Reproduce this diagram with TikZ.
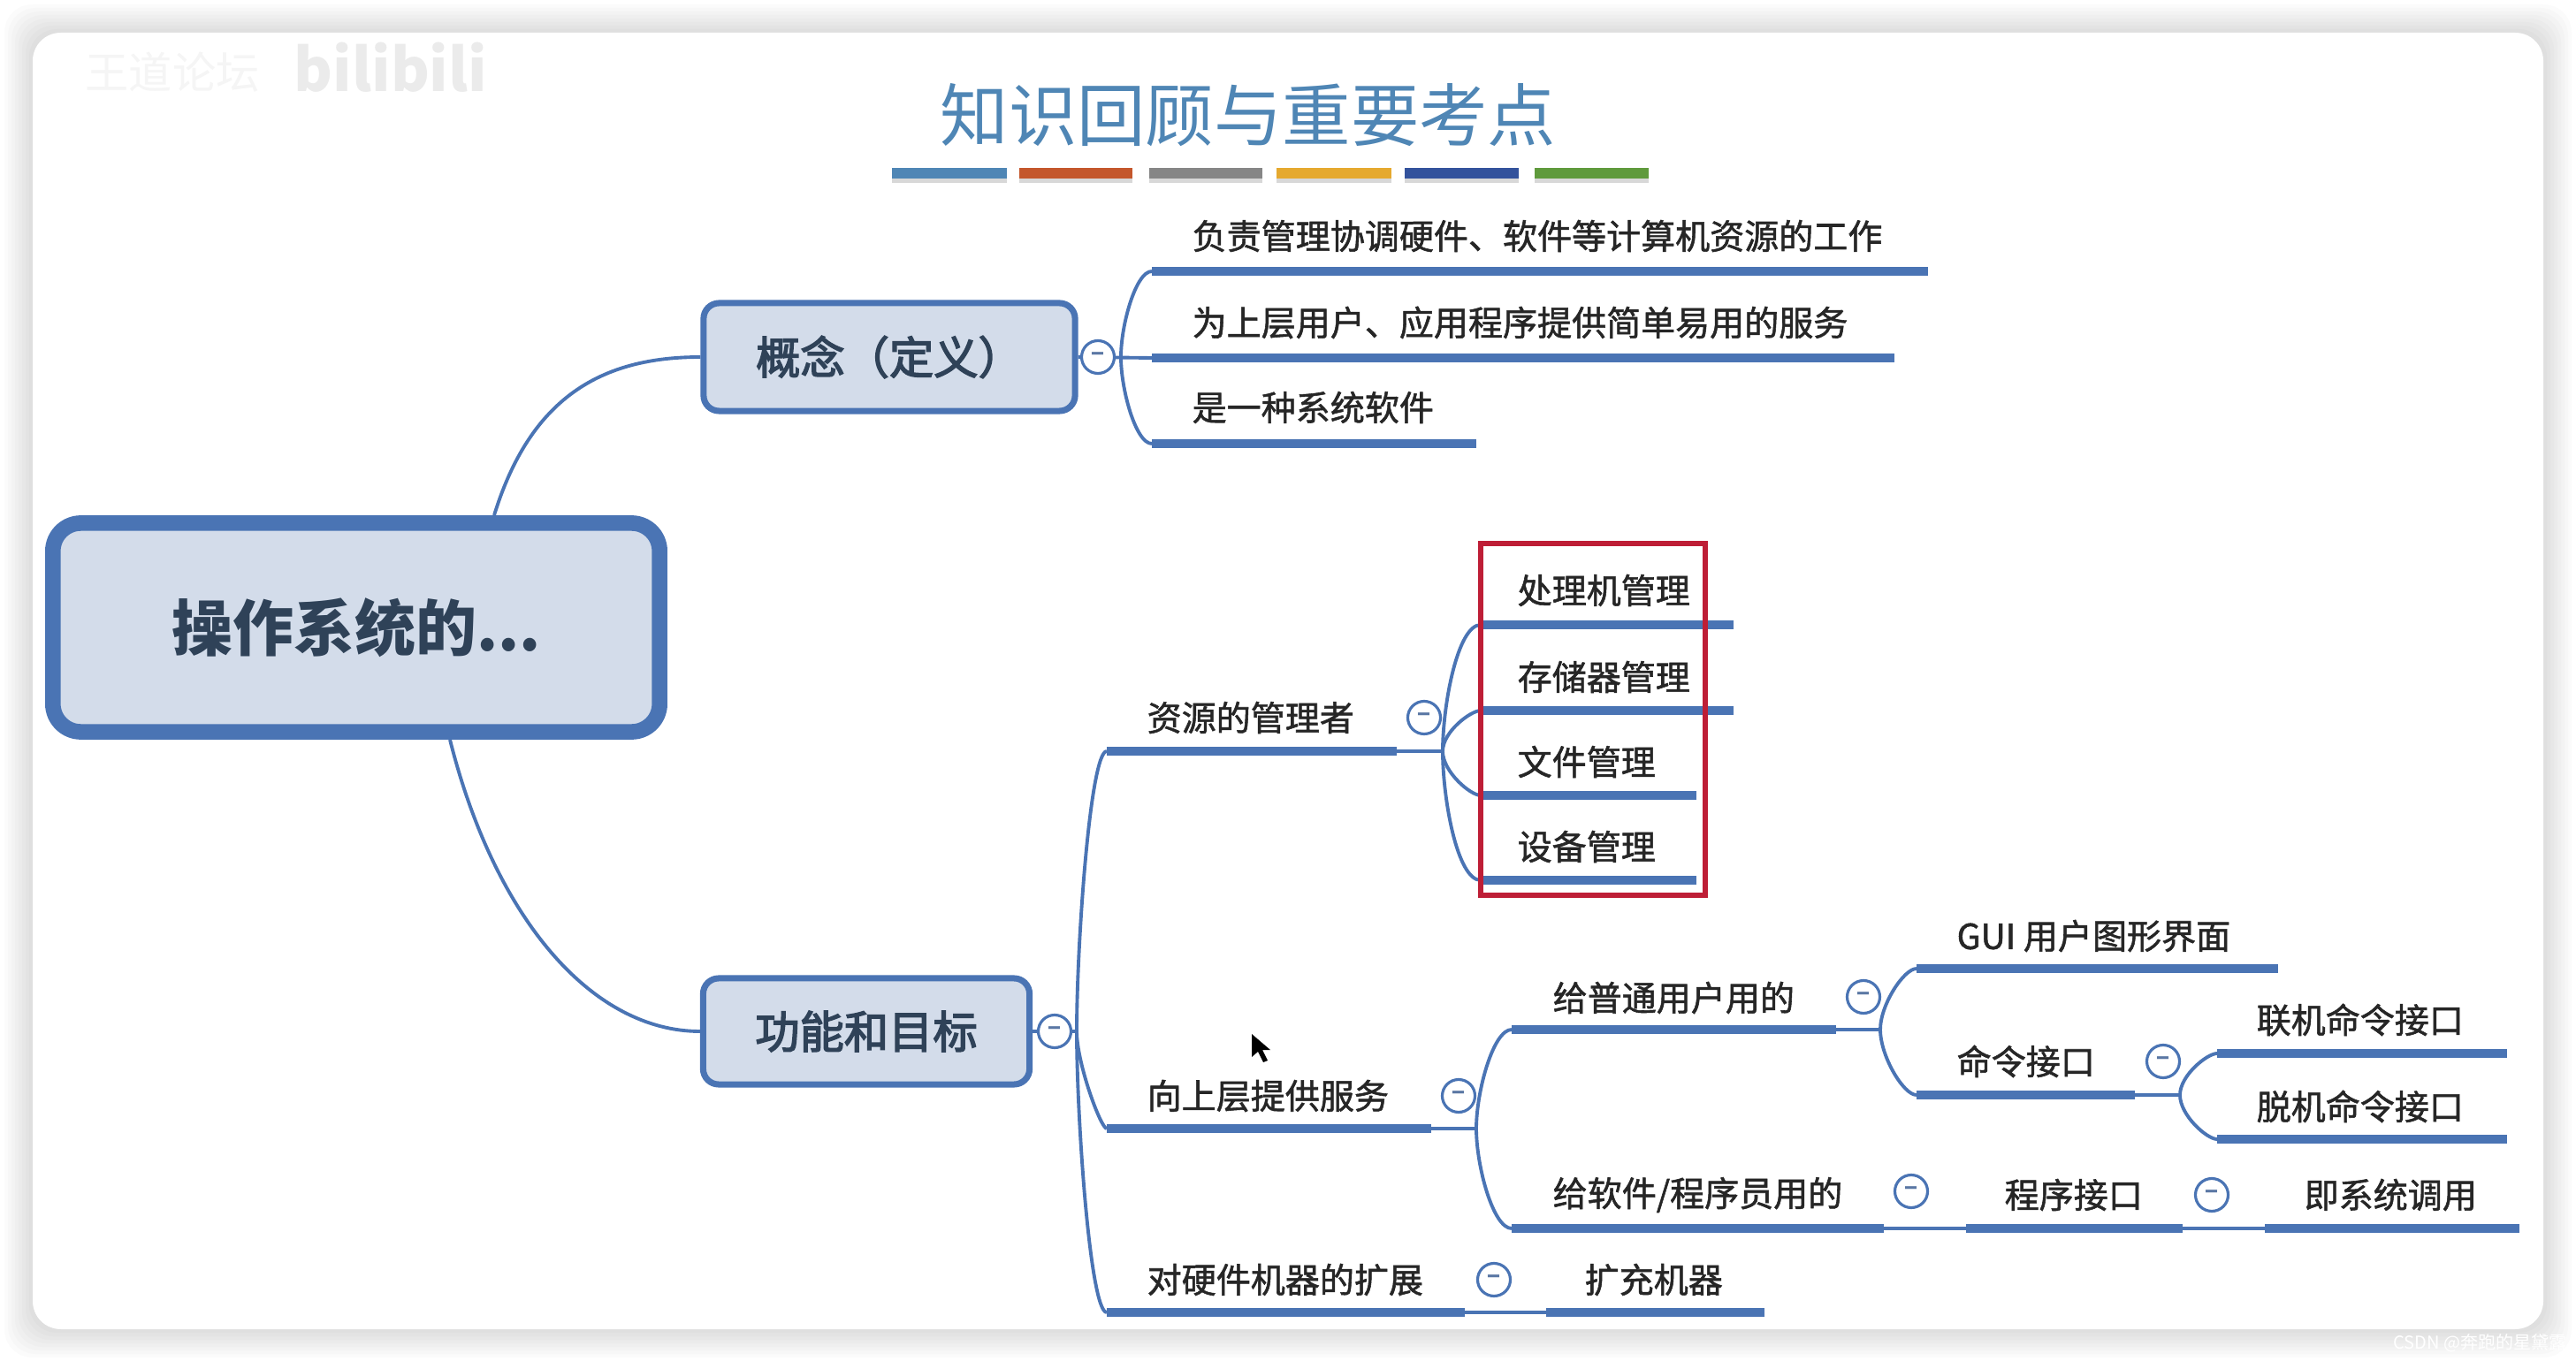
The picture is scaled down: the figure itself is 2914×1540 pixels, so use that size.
\documentclass[tikz,border=0pt]{standalone}
\usepackage{fontspec}
\setmainfont{Noto Sans CJK SC}
\newfontfamily\medfont[FakeBold=1.4]{Noto Sans CJK SC}
\newfontfamily\boxfont[FakeBold=3]{Noto Sans CJK SC}
\usetikzlibrary{shadows}
\definecolor{mapblue}{HTML}{4A74B4}
\definecolor{mapfill}{HTML}{D3DCEA}
\definecolor{mapink}{HTML}{2F4258}
\definecolor{marktitle}{HTML}{4F86B5}
\definecolor{markred}{HTML}{C4572C}
\definecolor{markgray}{HTML}{868686}
\definecolor{markyellow}{HTML}{E5A92F}
\definecolor{markblue}{HTML}{33529C}
\definecolor{markgreen}{HTML}{5F9A3C}
\definecolor{boxred}{HTML}{BE1E36}
\tikzset{
  topic/.style={anchor=west,inner sep=0pt,font=\fontsize{11.1pt}{13pt}\medfont,text=black!85},
  subject/.style={draw=mapblue,fill=mapfill,line width=2pt,rounded corners=5pt,
    font=\fontsize{14.3pt}{16pt}\boxfont,text=mapink},
  fold/.style={circle,draw=mapblue,fill=white,line width=0.9pt,minimum size=0.37cm,inner sep=0pt,
    font=\fontsize{7pt}{8pt}\selectfont\bfseries,text=mapblue!70!gray},
  bar/.style={mapblue,line width=3.1pt},
  link/.style={mapblue,line width=1.1pt},
  twig/.style={link,in=180,out looseness=0.9,in looseness=0.45},
  spine/.style={twig,in looseness=0.15,out looseness=0.8}
}
\begin{document}
\begin{tikzpicture}[x=0.01cm,y=-0.01cm]
\useasboundingbox (0,0) rectangle (2914,1540);
\foreach \s in {32,28,...,0}{
  \pgfmathsetmacro\c{14*(1-\s/36)}
  \fill[black!\c,rounded corners=9pt] (37-\s,37-\s) rectangle (2877+\s,1504+\s);
}
\fill[white,rounded corners=9pt] (37,37) rectangle (2877,1504);
\node[inner sep=0pt,text=black!4,font=\fontsize{14pt}{16pt}\selectfont] (forum) at (195,82) {王道论坛};
\node[inner sep=0pt,text=black!8,font=\fontsize{19pt}{21pt}\selectfont\bfseries] (site) at (442,76) {bilibili};
\node[anchor=west,inner sep=0pt,text=white,font=\fontsize{5.7pt}{6pt}\selectfont] (csdn) at (2707,1520) {CSDN @奔跑的星黛露};

\node[inner sep=0pt,text=marktitle,font=\fontsize{22pt}{24pt}\selectfont] (title) at (1412,130) {知识回顾与重要考点};
\foreach \c/\xa/\xb in {marktitle/1009/1139,markred/1153/1281,markgray/1300/1428,markyellow/1444/1574,markblue/1589/1718,markgreen/1736/1865}
  \fill[\c,drop shadow={shadow xshift=0pt,shadow yshift=-1.5pt,opacity=0.3}] (\xa,190) rectangle (\xb,202);

\node[subject,line width=5pt,rounded corners=9pt,minimum width=6.86cm,minimum height=2.36cm,
  font=\fontsize{19.6pt}{21pt}\selectfont\bfseries] (root) at (403,710) {操作系统的...};
\node[subject,minimum width=4.2cm,minimum height=1.22cm] (concept) at (1006,404) {概念（定义）};
\node[subject,minimum width=3.69cm,minimum height=1.20cm] (func) at (980,1167) {功能和目标};
\coordinate (rootup) at (559,583);
\coordinate (rootdown) at (509,837);

% underlined topics
\foreach \n/\xa/\xb/\yy in {duty/1303/2181/307,serve/1303/2143/405,soft/1303/1670/502,
  res/1252/1580/850,cpu/1675/1961/707,mem/1675/1961/804,file/1675/1919/900,dev/1675/1919/996,
  up/1252/1619/1277,user/1710/2077/1165,prog/1710/2131/1390,gui/2168/2577/1096,cmd/2168/2415/1239,
  on/2508/2836/1192,off/2508/2836/1289,api/2224/2469/1390,call/2562/2850/1390,
  hw/1252/1657/1485,ext/1749/1996/1485}{
  \coordinate (\n-a) at (\xa,\yy);
  \coordinate (\n-b) at (\xb,\yy);
  \draw[bar] (\n-a) -- (\n-b);
}

\node[topic] (dutyT) at (1348,267) {负责管理协调硬件、软件等计算机资源的工作};
\node[topic] (serveT) at (1348,365) {为上层用户、应用程序提供简单易用的服务};
\node[topic] (softT) at (1348,461) {是一种系统软件};
\node[topic] (resT) at (1297,812) {资源的管理者};
\node[topic] (cpuT) at (1716,668) {处理机管理};
\node[topic] (memT) at (1716,766) {存储器管理};
\node[topic] (fileT) at (1716,862) {文件管理};
\node[topic] (devT) at (1716,958) {设备管理};
\node[topic] (upT) at (1297,1240) {向上层提供服务};
\node[topic] (userT) at (1756,1129) {给普通用户用的};
\node[topic] (progT) at (1756,1352) {给软件/程序员用的};
\node[topic] (guiT) at (2213,1059) {GUI 用户图形界面};
\node[topic] (cmdT) at (2213,1201) {命令接口};
\node[topic] (onT) at (2552,1154) {联机命令接口};
\node[topic] (offT) at (2552,1252) {脱机命令接口};
\node[topic] (apiT) at (2267,1352) {程序接口};
\node[topic] (callT) at (2606,1352) {即系统调用};
\node[topic] (hwT) at (1297,1448) {对硬件机器的扩展};
\node[topic] (extT) at (1792,1448) {扩充机器};

% branch points
\coordinate (hubconcept) at (1268,404);
\coordinate (hubfunc) at (1218,1167);
\coordinate (hubres) at (1632,850);
\coordinate (hubup) at (1670,1277);
\coordinate (hubuser) at (2127,1165);
\coordinate (hubcmd) at (2466,1239);

\draw[link] (rootup) .. controls (600,450) and (680,404) .. (concept.west);
\draw[link] (rootdown) .. controls (560,1040) and (670,1167) .. (func.west);
\draw[link] (concept.east) -- (serve-a);
\draw[link] (func.east) -- (hubfunc);
\draw[twig] (hubconcept) to[out=90] (duty-a);
\draw[twig] (hubconcept) to[out=-90] (soft-a);
\draw[spine] (hubfunc) to[out=90] (res-a);
\draw[spine] (hubfunc) to[out=-90] (up-a);
\draw[spine] (hubfunc) to[out=-90] (hw-a);
\draw[link] (res-b) -- (hubres);
\foreach \n in {cpu,mem}
  \draw[twig] (hubres) to[out=90] (\n-a);
\foreach \n in {file,dev}
  \draw[twig] (hubres) to[out=-90] (\n-a);
\draw[link] (up-b) -- (hubup);
\draw[twig] (hubup) to[out=90] (user-a);
\draw[twig] (hubup) to[out=-90] (prog-a);
\draw[link] (user-b) -- (hubuser);
\draw[twig] (hubuser) to[out=90] (gui-a);
\draw[twig] (hubuser) to[out=-90] (cmd-a);
\draw[link] (cmd-b) -- (hubcmd);
\draw[twig] (hubcmd) to[out=90] (on-a);
\draw[twig] (hubcmd) to[out=-90] (off-a);
\draw[link] (prog-b) -- (api-a);
\draw[link] (api-b) -- (call-a);
\draw[link] (hw-b) -- (ext-a);

\node[fold] (foldconcept) at (1242,404) {−};
\node[fold] (foldfunc) at (1193,1167) {−};
\node[fold] (foldres) at (1611,812) {−};
\node[fold] (foldup) at (1650,1240) {−};
\node[fold] (folduser) at (2108,1128) {−};
\node[fold] (foldprog) at (2162,1348) {−};
\node[fold] (foldcmd) at (2447,1201) {−};
\node[fold] (foldapi) at (2502,1352) {−};
\node[fold] (foldhw) at (1690,1448) {−};

\draw[boxred,line width=1.6pt] (1675,615) rectangle (1929,1013);
\fill[black] (1416,1170) -- (1416,1196) -- (1423,1190) -- (1429,1202) -- (1434,1200) -- (1428,1188) -- (1437,1188) -- cycle;
\end{tikzpicture}
\end{document}
